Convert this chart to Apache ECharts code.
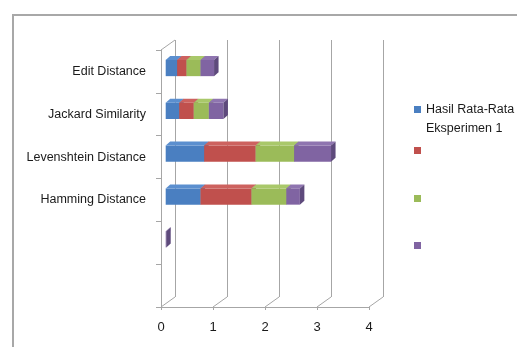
<!DOCTYPE html>
<html>
<head>
<meta charset="utf-8">
<script src="https://cdn.jsdelivr.net/npm/echarts@6/dist/echarts.min.js"></script>
<style>html,body{margin:0;padding:0;background:#fff;}#c{width:517px;height:347px;}</style>
</head>
<body>
<div id="c"></div>
<script>
const categories = ['Edit Distance', 'Jackard Similarity', 'Levenshtein Distance', 'Hamming Distance', '', ' '];
const seriesNames = ['Hasil Rata-Rata Eksperimen 1', 'Series 2', 'Series 3', 'Series 4'];
const blueValues = [0.22, 0.26, 0.74, 0.67, 0, 0];
const redValues = [0.18, 0.28, 0.99, 0.98, 0, 0];
const greenValues = [0.27, 0.29, 0.74, 0.67, 0, 0];
const purpleValues = [0.26, 0.28, 0.71, 0.26, 0.01, 0];
const xTicks = [0, 1, 2, 3, 4];

const allValues = [blueValues, redValues, greenValues, purpleValues];
const faceColors = ['#4a7fc1', '#c0504d', '#9bbb59', '#8064a2'];
const topColors = ['#5b8fcf', '#cd625f', '#a9c86a', '#8f75b0'];
const sideColors = ['#355f94', '#943c3a', '#76903f', '#5e4a7c'];

const FONT = 'Liberation Sans';
const WALL = 14, WALLY = -10;        // wall depth offset
const BDX = 4.7, BDY = -3.4;          // bar plane offset
const DDX = 4.5, DDY = -4;            // bar depth

// cumulative stacking
const starts = allValues.map(() => []);
categories.forEach((c, i) => {
  let acc = 0;
  allValues.forEach((vals, s) => { starts[s][i] = acc; acc += vals[i]; });
});

function barSeries(s) {
  const data = categories.map((c, i) => [i, starts[s][i], starts[s][i] + allValues[s][i]]);
  return {
    type: 'custom',
    name: seriesNames[s],
    xAxisIndex: 0, yAxisIndex: 0,
    itemStyle: { color: faceColors[s] },
    encode: { y: 0, x: [1, 2] },
    clip: false,
    silent: true,
    data: data,
    renderItem: function (params, api) {
      const cat = api.value(0), st = api.value(1), en = api.value(2);
      if (en - st <= 0) return null;
      const p0 = api.coord([st, cat]);
      const p1 = api.coord([en, cat]);
      const h = api.size([0, 1])[1] * 0.38;
      const x0 = p0[0] + BDX, x1 = p1[0] + BDX;
      const yt = p0[1] + BDY - h / 2, yb = yt + h;
      return {
        type: 'group',
        children: [
          { type: 'rect', shape: { x: x0, y: yt, width: x1 - x0, height: h }, style: { fill: faceColors[s] } },
          { type: 'polygon', shape: { points: [[x0, yt], [x1, yt], [x1 + DDX, yt + DDY], [x0 + DDX, yt + DDY]] }, style: { fill: topColors[s] } },
          { type: 'polygon', shape: { points: [[x1, yt], [x1 + DDX, yt + DDY], [x1 + DDX, yb + DDY], [x1, yb]] }, style: { fill: sideColors[s] } }
        ]
      };
    }
  };
}

const frameSeries = {
  type: 'custom',
  xAxisIndex: 0, yAxisIndex: 0,
  encode: { x: 0, y: 1 },
  clip: false,
  silent: true,
  z: 1,
  data: xTicks.map(v => [v, 0]),
  renderItem: function (params, api) {
    const cs = params.coordSys;
    const x = api.coord([api.value(0), 0])[0];
    const yb = cs.y + cs.height;
    const lineStyle = { stroke: '#a6a6a6', lineWidth: 1 };
    const children = [
      { type: 'line', shape: { x1: x, y1: yb, x2: x + WALL, y2: yb + WALLY }, style: lineStyle }
    ];
    if (params.dataIndex === 0) {
      children.push({ type: 'line', shape: { x1: cs.x, y1: cs.y, x2: cs.x + WALL, y2: cs.y + WALLY }, style: lineStyle });
    }
    return { type: 'group', children: children };
  }
};

function legendFor(s, top, formatter, itemH, icon) {
  return {
    data: [seriesNames[s]],
    left: 414, top: top,
    orient: 'vertical',
    padding: 0,
    itemWidth: 7, itemHeight: itemH,
    icon: icon,
    selectedMode: false,
    formatter: formatter,
    textStyle: { fontFamily: FONT, fontSize: 12.5, color: '#1a1a1a', lineHeight: 19 }
  };
}

const option = {
  backgroundColor: '#ffffff',
  animation: false,
  graphic: [{
    type: 'rect', silent: true, z: 0,
    shape: { x: 13, y: 15, width: 600, height: 400 },
    style: { fill: 'none', stroke: '#a8a8a8', lineWidth: 2 }
  }],
  grid: [
    { left: 161, right: 148, top: 50, bottom: 40 },
    { left: 161 + WALL, right: 148 - WALL, top: 50 + WALLY, bottom: 40 - WALLY }
  ],
  xAxis: [
    {
      type: 'value', gridIndex: 0, min: 0, max: 4, interval: 1,
      axisLine: { show: true, lineStyle: { color: '#a6a6a6', width: 1 } },
      axisTick: { show: true, length: 3, lineStyle: { color: '#a6a6a6' } },
      axisLabel: { fontFamily: FONT, fontSize: 13, color: '#1a1a1a', margin: 14 },
      splitLine: { show: false }
    },
    {
      type: 'value', gridIndex: 1, min: 0, max: 4, interval: 1,
      axisLine: { show: false }, axisTick: { show: false }, axisLabel: { show: false },
      splitLine: { show: true, lineStyle: { color: '#a6a6a6', width: 1 } }
    }
  ],
  yAxis: [
    {
      type: 'category', gridIndex: 0, data: categories, inverse: true,
      axisLine: { show: true, lineStyle: { color: '#a6a6a6', width: 1 } },
      axisTick: { show: true, length: 5, lineStyle: { color: '#a6a6a6' } },
      axisLabel: { fontFamily: FONT, fontSize: 12.5, color: '#1a1a1a', margin: 15, padding: [4, 0, 0, 0] },
      splitLine: { show: false }
    },
    {
      type: 'category', gridIndex: 1, data: categories, inverse: true,
      axisLine: { show: false }, axisTick: { show: false }, axisLabel: { show: false },
      splitLine: { show: false }
    }
  ],
  legend: [
    legendFor(0, 100, function () { return 'Hasil Rata-Rata\nEksperimen 1'; }, 26, 'path://M0,0L7,0L7,7L0,7Z M0,25.99L0.01,26'),
    legendFor(1, 147, function () { return ''; }, 7, 'rect'),
    legendFor(2, 195, function () { return ''; }, 7, 'rect'),
    legendFor(3, 242, function () { return ''; }, 7, 'rect')
  ],
  series: [frameSeries, barSeries(0), barSeries(1), barSeries(2), barSeries(3)]
};

const chart = echarts.init(document.getElementById('c'), null, { renderer: 'canvas' });
chart.setOption(option);
</script>
</body>
</html>
